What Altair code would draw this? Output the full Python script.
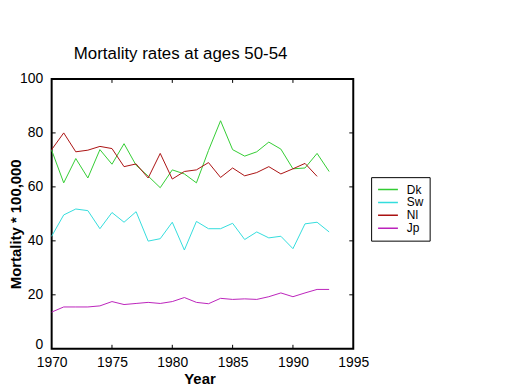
import altair as alt
import pandas as pd

years = list(range(1970, 1994))
dk = [73.6, 61.5, 70.5, 63.3, 73.8, 68.4, 76.0, 68.0, 64.0, 59.7, 66.3, 64.8, 61.5,
      73.5, 84.5, 73.8, 71.4, 73.0, 76.6, 74.0, 66.7, 67.0, 72.4, 65.7]
sw = [41.7, 49.6, 51.8, 51.2, 44.5, 50.5, 46.9, 50.8, 39.9, 40.8, 46.9, 36.6, 47.2,
      44.5, 44.5, 46.5, 40.5, 43.3, 41.1, 41.7, 37.1, 46.3, 46.9, 43.3]
nl = [73.8, 80.0, 73.0, 73.6, 75.0, 74.2, 67.5, 68.5, 63.3, 72.4, 62.9, 65.7, 66.3,
      69.0, 63.5, 67.0, 64.1, 65.3, 67.5, 64.8, 66.7, 68.7, 63.9]
jp = [13.6, 15.5, 15.5, 15.5, 15.9, 17.5, 16.4, 16.8, 17.2, 16.8, 17.5, 19.0, 17.2,
      16.7, 18.7, 18.3, 18.5, 18.3, 19.3, 20.7, 19.3, 20.7, 22.0, 22.0]
series = ["Dk", "Sw", "Nl", "Jp"]
colors = ["#33cc33", "#33dddd", "#aa1111", "#bb22bb"]
x_ticks = [1970, 1975, 1980, 1985, 1990, 1995]
y_ticks = [0, 20, 40, 60, 80, 100]

rows = []
for name, vals in zip(series, [dk, sw, nl, jp]):
    for yr, v in zip(years, vals):
        rows.append({"Year": yr, "value": v, "country": name})
df = pd.DataFrame(rows)

W, H = 304, 272
FONT = "Liberation Sans"

xs = alt.Scale(domain=[1970, 1995], nice=False, zero=False)
ys = alt.Scale(domain=[0, 100], nice=False)

lines = alt.Chart(df).mark_line(strokeWidth=1).encode(
    x=alt.X("Year:Q", scale=xs,
            axis=alt.Axis(values=x_ticks, format="d", tickSize=0, grid=False,
                          labelFlush=False,
                          labelFontSize=14, labelPadding=7, labelColor="black",
                          title="Year", titleFontSize=15, titleFontWeight="bold",
                          titleX=149, titleY=30, titleBaseline="middle",
                          titleAlign="center", domain=False)),
    y=alt.Y("value:Q", scale=ys,
            axis=alt.Axis(values=y_ticks, tickSize=0, grid=False,
                          labelFlush=False,
                          labelBaseline={"condition": {"test": "datum.value == 0",
                                                       "value": "alphabetic"},
                                         "value": "middle"},
                          labelFontSize=14, labelPadding=9, labelColor="black",
                          title="Mortality * 100,000", titleFontSize=15,
                          titleFontWeight="bold", titleAngle=270,
                          titleX=-36, titleY=146, titleBaseline="middle",
                          titleAlign="center", domain=False)),
    color=alt.Color("country:N", scale=alt.Scale(domain=series, range=colors),
                    sort=series,
                    legend=alt.Legend(title=None, orient="none", legendX=322,
                                      legendY=99, symbolType="stroke",
                                      symbolSize=400, symbolStrokeWidth=1.5,
                                      clipHeight=13, rowPadding=0,
                                      labelFontSize=12, labelOffset=8,
                                      labelColor="black", padding=6,
                                      strokeColor="black", fillColor="white",
                                      labelFont=FONT)),
)

ytick_df = pd.DataFrame({"v": y_ticks[1:-1]})
xtick_df = pd.DataFrame({"y": x_ticks[1:-1]})

tl = alt.Chart(ytick_df).mark_rule(color="black").encode(
    y=alt.Y("v:Q", scale=ys), x=alt.value(0), x2=alt.value(4))
tr = alt.Chart(ytick_df).mark_rule(color="black").encode(
    y=alt.Y("v:Q", scale=ys), x=alt.value(W - 4), x2=alt.value(W))
tb = alt.Chart(xtick_df).mark_rule(color="black").encode(
    x=alt.X("y:Q", scale=xs), y=alt.value(H - 4), y2=alt.value(H))
tt = alt.Chart(xtick_df).mark_rule(color="black").encode(
    x=alt.X("y:Q", scale=xs), y=alt.value(0), y2=alt.value(4))

chart = alt.layer(lines, tl, tr, tb, tt).properties(
    width=W, height=H,
    title=alt.TitleParams("Mortality rates at ages 50-54", fontSize=17,
                          fontWeight="normal", font=FONT, anchor="middle",
                          dx=-22, offset=1, baseline="middle", color="black"),
    autosize=alt.AutoSizeParams(type="none"),
    padding={"left": 44, "top": 70, "right": 160, "bottom": 36},
    background="white",
).configure_view(stroke="black", strokeWidth=2).configure_axis(
    labelFont=FONT, titleFont=FONT, titleColor="black"
)

chart.save("out.html", embed_options={"renderer": "svg", "actions": False})
